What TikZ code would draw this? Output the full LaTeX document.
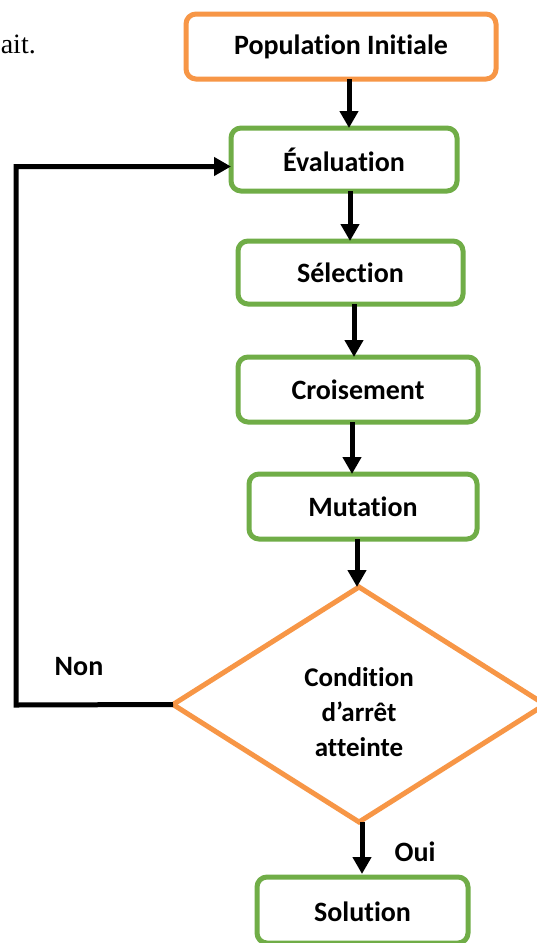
\documentclass[tikz,border=0pt]{standalone}
\usepackage{fontspec}
\setmainfont{Carlito}[Ligatures=NoCommon]
\newfontfamily\bodyserif{Liberation Serif}
\usetikzlibrary{arrows.meta,shapes.geometric}
\definecolor{flowgreen}{RGB}{112,173,71}
\definecolor{floworange}{RGB}{247,150,70}
\tikzset{
  box/.style={draw, line width=5pt, rounded corners=10pt, fill=white,
    inner sep=0pt, outer sep=0pt, font=\bfseries\fontsize{28}{32}\selectfont},
  greenbox/.style={box, draw=flowgreen},
  orangebox/.style={box, draw=floworange},
  decision/.style={diamond, draw=floworange, line width=5pt, fill=white,
    inner sep=0pt, outer sep=0pt},
  flow/.style={line width=5pt, -{Triangle[width=18pt,length=17pt]}},
  tag/.style={font=\bfseries\fontsize{28}{32}\selectfont, inner sep=0pt},
}
\begin{document}
\begin{tikzpicture}[x=1pt, y=-1pt]
  \useasboundingbox (0,0) rectangle (537,943);
  \clip (0,0) rectangle (537,943);
  \fill[white] (0,0) rectangle (537,943);

  % fragment of the surrounding text
  \node[anchor=base east, inner sep=0pt, font=\bodyserif\fontsize{28}{32}\selectfont]
    (txt) at (36,53) {ait.};

  % process steps
  \node[orangebox, minimum width=310pt, minimum height=65pt] (pop) at (341,46.5) {Population Initiale};
  \node[greenbox, minimum width=226pt, minimum height=63pt] (eval) at (344,159.5) {Évaluation};
  \node[greenbox, minimum width=225pt, minimum height=63pt] (sel) at (350.5,272.5) {Sélection};
  \node[greenbox, minimum width=240pt, minimum height=65pt] (cross) at (358,389.5) {Croisement};
  \node[greenbox, minimum width=228pt, minimum height=65pt] (mut) at (363,506.5) {Mutation};
  \node[decision, minimum width=372pt, minimum height=235pt] (dec) at (359,704.5) {};
  \node[greenbox, minimum width=211pt, minimum height=66pt] (sol) at (362.5,910) {};
  \node[tag] (soltext) at (362.5,912) {Solution};

  % stop condition text, cut at the bottom of its frame
  \begin{scope}
    \clip (250,600) rectangle (470,757);
    \node[tag, align=center, font=\bfseries\fontsize{27}{35}\selectfont] (cond) at (359,712)
      {Condition\\d’arrêt\\atteinte};
  \end{scope}

  % connectors
  \draw[flow] ([xshift=8pt]pop.south) -- ([xshift=8pt]pop.south |- eval.north);
  \draw[flow] ([xshift=6pt]eval.south) -- ([xshift=6pt]eval.south |- sel.north);
  \draw[flow] ([xshift=3.5pt]sel.south) -- ([xshift=3.5pt]sel.south |- cross.north);
  \draw[flow] ([xshift=-6pt]cross.south) -- ([xshift=-6pt]cross.south |- mut.north);
  \draw[flow] ([xshift=-6pt]mut.south) -- ([xshift=-6pt]mut.south |- dec.north);
  \draw[flow, shorten >=3pt] ([xshift=3pt]dec.south) -- ([xshift=3pt]dec.south |- sol.north);

  \coordinate (loopcorner) at (16,705);
  \draw[flow] (dec.west) -- (loopcorner) |- ([yshift=-7pt]eval.west);

  % branch labels
  \node[tag] (non) at (79,667) {Non};
  \node[tag] (oui) at (415,852) {Oui};
\end{tikzpicture}
\end{document}
